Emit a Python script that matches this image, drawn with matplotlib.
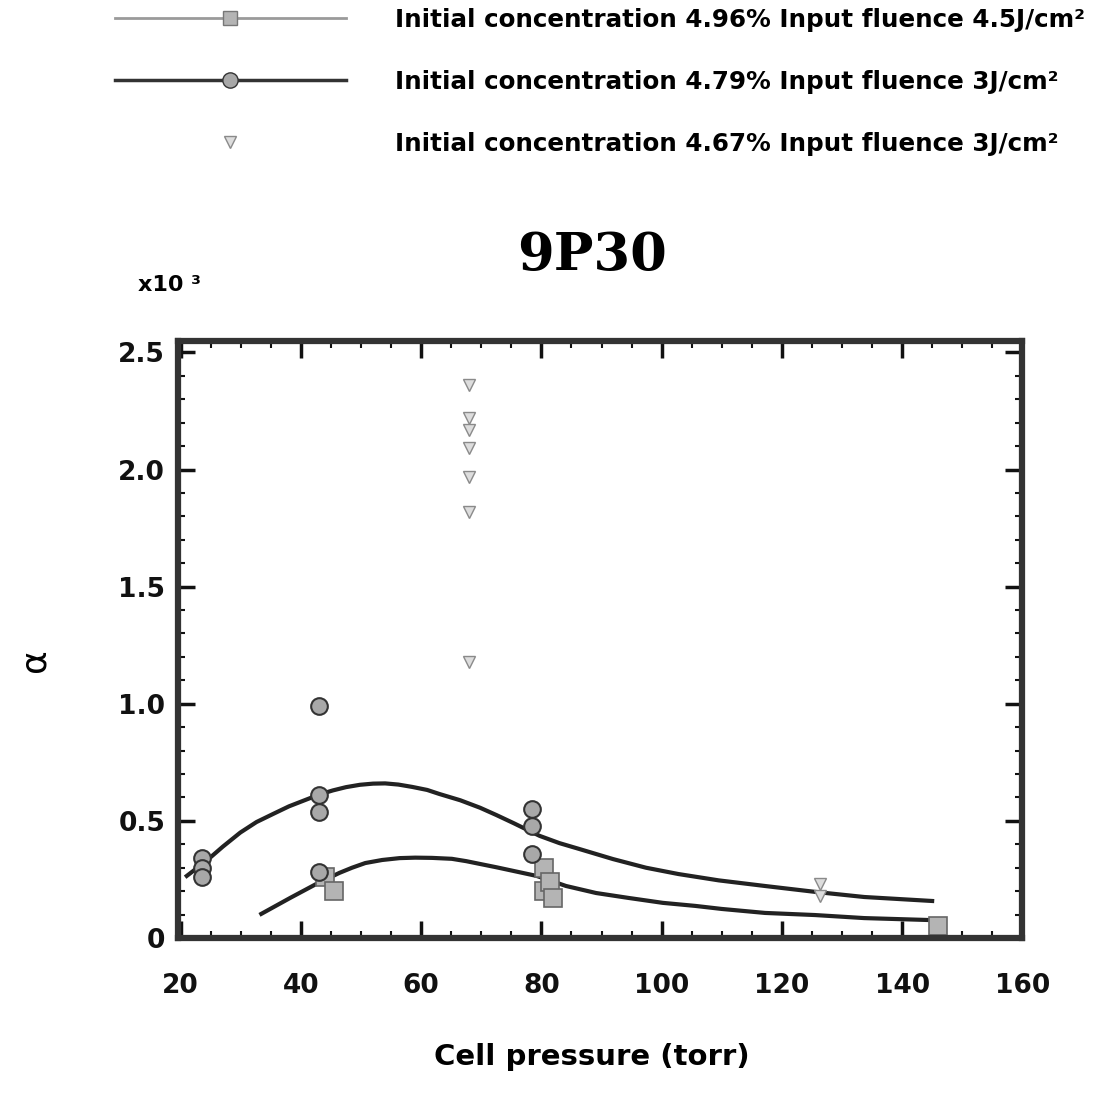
import matplotlib
matplotlib.use("Agg")
import matplotlib.pyplot as plt
from matplotlib.lines import Line2D
from matplotlib.ticker import MultipleLocator

# measured points, pressure (torr) vs alpha (x10^3)
sq_x = [44.0, 45.5, 80.5, 80.5, 81.5, 82.0, 146.0]
sq_y = [0.26, 0.20, 0.30, 0.20, 0.24, 0.17, 0.05]

ci_x = [23.5, 23.5, 23.5, 43.0, 43.0, 43.0, 43.0, 78.5, 78.5, 78.5]
ci_y = [0.34, 0.30, 0.26, 0.99, 0.61, 0.54, 0.28, 0.55, 0.48, 0.36]

tr_x = [68.0, 68.0, 68.0, 68.0, 68.0, 68.0, 68.0, 126.3, 126.3]
tr_y = [2.36, 2.22, 2.17, 2.09, 1.97, 1.82, 1.18, 0.23, 0.18]

# fitted curves
fit_hi_x = [21.0, 24.3, 27.0, 29.9, 32.6, 35.4, 38.0, 40.8, 43.0, 45.3, 47.5, 49.8,
            52.0, 54.0, 56.2, 58.5, 61.0, 63.0, 66.5, 69.8, 72.5, 75.4, 79.7, 83.0,
            86.3, 91.9, 97.4, 102.8, 109.5, 117.2, 125.5, 133.7, 145.0]
fit_hi_y = [0.265, 0.33, 0.39, 0.45, 0.495, 0.53, 0.562, 0.59, 0.612, 0.63, 0.644, 0.654,
            0.659, 0.66, 0.655, 0.645, 0.632, 0.615, 0.588, 0.556, 0.525, 0.49, 0.436, 0.405,
            0.38, 0.337, 0.30, 0.273, 0.246, 0.222, 0.197, 0.175, 0.158]

fit_lo_x = [33.4, 38.2, 42.5, 46.4, 48.5, 50.7, 53.5, 56.4, 59.0, 61.8, 65.1, 67.5,
            69.8, 72.5, 75.4, 79.2, 81.5, 84.1, 89.1, 94.5, 100.2, 105.6, 110.0,
            117.2, 125.5, 133.7, 144.1]
fit_lo_y = [0.103, 0.171, 0.23, 0.278, 0.30, 0.32, 0.333, 0.341, 0.343, 0.342, 0.338, 0.328,
            0.316, 0.302, 0.286, 0.265, 0.245, 0.222, 0.192, 0.171, 0.15, 0.137, 0.124,
            0.107, 0.098, 0.085, 0.077]

labels = ["Initial concentration 4.96% Input fluence 4.5J/cm²",
          "Initial concentration 4.79% Input fluence 3J/cm²",
          "Initial concentration 4.67% Input fluence 3J/cm²"]

fig = plt.figure(figsize=(11.04, 10.94), dpi=100)
ax = fig.add_axes([0.161, 0.1426, 0.765, 0.546])

ax.plot(fit_hi_x, fit_hi_y, color='#222222', lw=3)
ax.plot(fit_lo_x, fit_lo_y, color='#222222', lw=3)
ax.plot(sq_x, sq_y, 's', ms=13, mfc='#b4b4b4', mec='#666666', mew=1.2, clip_on=False)
ax.plot(ci_x, ci_y, 'o', ms=12, mfc='#a8a8a8', mec='#333333', mew=1.5)
ax.plot(tr_x, tr_y, 'v', ms=8, mfc='#dddddd', mec='#8a8a8a', mew=1.0)

ax.set_xlim(19.5, 159.5)
ax.set_ylim(0, 2.55)
ax.set_xticks([20, 40, 60, 80, 100, 120, 140, 160])
ax.set_xticklabels(['20', '40', '60', '80', '100', '120', '140', '160'])
ax.set_yticks([0, 0.5, 1.0, 1.5, 2.0, 2.5])
ax.set_yticklabels(['0', '0.5', '1.0', '1.5', '2.0', '2.5'])
ax.xaxis.set_minor_locator(MultipleLocator(5))
ax.yaxis.set_minor_locator(MultipleLocator(0.1))
ax.tick_params(which='both', direction='in', top=True, right=True, colors='#111111')
ax.tick_params(which='major', length=12, width=2.5)
ax.tick_params(which='minor', length=5, width=1.5)
ax.tick_params(axis='x', which='major', pad=25, labelsize=19)
ax.tick_params(axis='y', which='major', pad=9, labelsize=19)
for lab in ax.get_xticklabels() + ax.get_yticklabels():
    lab.set_fontweight('bold')
for sp in ax.spines.values():
    sp.set_linewidth(4.5)
    sp.set_color('#333333')

ax.set_xlabel('Cell pressure (torr)', fontsize=21, fontweight='bold')
ax.xaxis.set_label_coords(0.49, -0.176)
ax.set_ylabel('α', fontsize=26)
ax.yaxis.set_label_coords(-0.15, 0.465)

# title sits a bit left of the axes centre in the original
ax.text(0.49, 1.10, '9P30', transform=ax.transAxes, ha='center', va='bottom',
        family='DejaVu Serif', fontsize=38, fontweight='bold')

fig.text(138 / 1104, 1 - 285 / 1094, 'x10 ³', fontsize=16, fontweight='bold', va='center')

handles = [
    Line2D([], [], color='#9a9a9a', lw=2, marker='s', ms=10, mfc='#b4b4b4', mec='#777777'),
    Line2D([], [], color='#333333', lw=2.5, marker='o', ms=11, mfc='#a8a8a8', mec='#333333'),
    Line2D([], [], ls='none', marker='v', ms=8, mfc='#dddddd', mec='#8a8a8a'),
]
leg = fig.legend(handles, labels, loc='upper left', bbox_to_anchor=(0.104, 0.993),
                 frameon=False, fontsize=17.7, handlelength=9.4, handletextpad=2.0,
                 labelspacing=1.55, borderpad=0, borderaxespad=0, numpoints=1)
for t in leg.get_texts():
    t.set_fontweight('bold')

plt.savefig('out.png', dpi=100)
